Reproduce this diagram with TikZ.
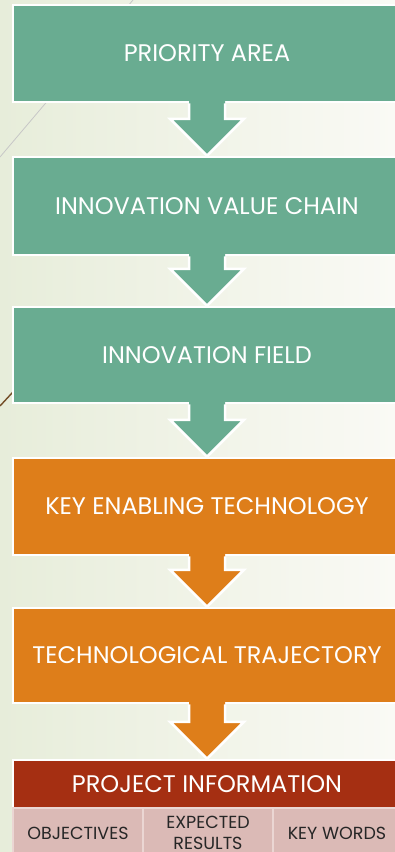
\documentclass[tikz,border=0pt]{standalone}
\usepackage{fontspec}
\setmainfont{Poppins}
\usetikzlibrary{calc}
\definecolor{tgreen}{HTML}{69AC91}
\definecolor{torange}{HTML}{DE7E1A}
\definecolor{tred}{HTML}{A52F12}
\definecolor{tpink}{HTML}{DBBAB6}
\definecolor{tpinkline}{HTML}{EBD6D3}
\definecolor{bgleft}{HTML}{E7EDDA}
\definecolor{bgright}{HTML}{FAFAF5}
\tikzset{
  stepbox/.style={draw=white, line width=2.5pt, minimum width=388pt, inner sep=0pt,
    text=white, font=\fontsize{24}{28}\selectfont},
  subbox/.style={draw=tpinkline, line width=1.5pt, fill=tpink, inner sep=0pt,
    minimum height=50pt, text=black!85, align=center, font=\fontsize{17.5}{21}\selectfont},
  arrowedge/.style={draw=white, line width=2.5pt, line join=miter},
}
\newcommand{\blockarrow}[3]{%
  \fill[#3] ($(#1.south)+(-18,-3)$) -- ($(#2.north)+(-18,-37)$) -- ($(#2.north)+(-37,-37)$)
     -- (#2.north) -- ($(#2.north)+(37,-37)$) -- ($(#2.north)+(18,-37)$) -- ($(#1.south)+(18,-3)$) -- cycle;
  \draw[arrowedge] ($(#1.south)+(-18,0)$) -- ($(#2.north)+(-18,-37)$) -- ($(#2.north)+(-37,-37)$)
     -- (#2.north) -- ($(#2.north)+(37,-37)$) -- ($(#2.north)+(18,-37)$) -- ($(#1.south)+(18,0)$);
}
\begin{document}
\begin{tikzpicture}[x=1pt,y=-1pt]
\shade[left color=bgleft, right color=bgright] (0,0) rectangle (395,852);
\useasboundingbox (0,0) rectangle (395,852);
\draw[color=black!22, line width=0.8pt] (133,0) -- (0,157);
\draw[color=brown!60!black, line width=1.4pt] (0,406) -- (24,380);

\node[stepbox, fill=tgreen, minimum height=97pt] (b1) at (207,53.5) {PRIORITY AREA};
\node[stepbox, fill=tgreen, minimum height=98pt] (b2) at (207,206) {INNOVATION VALUE CHAIN};
\node[stepbox, fill=tgreen, minimum height=96pt] (b3) at (207,355) {INNOVATION FIELD};
\node[stepbox, fill=torange, minimum height=97pt] (b4) at (207,506.5) {KEY ENABLING TECHNOLOGY};
\node[stepbox, fill=torange, minimum height=95pt] (b5) at (207,655.5) {TECHNOLOGICAL TRAJECTORY};
\node[stepbox, fill=tred, minimum height=48pt] (b6) at (207,784) {PROJECT INFORMATION};

\node[subbox, minimum width=130pt] (s1) at (78,833) {OBJECTIVES};
\node[subbox, minimum width=130pt] (s2) at (208,833) {EXPECTED\\RESULTS};
\node[subbox, minimum width=128pt] (s3) at (337,833) {KEY WORDS};

\blockarrow{b1}{b2}{tgreen}
\blockarrow{b2}{b3}{tgreen}
\blockarrow{b3}{b4}{tgreen}
\blockarrow{b4}{b5}{torange}
\blockarrow{b5}{b6}{torange}
\end{tikzpicture}
\end{document}
